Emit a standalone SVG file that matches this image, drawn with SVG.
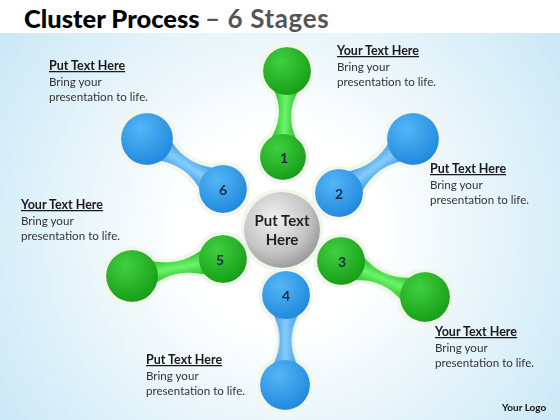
<svg xmlns="http://www.w3.org/2000/svg" width="560" height="420" viewBox="0 0 560 420">
<defs>
  <radialGradient id="bg" cx="280" cy="230" r="330" gradientUnits="userSpaceOnUse">
    <stop offset="0.3" stop-color="#ffffff"/>
    <stop offset="1" stop-color="#cde9f6"/>
  </radialGradient>
  <radialGradient id="gCircle" cx="0.38" cy="0.3" r="0.8">
    <stop offset="0" stop-color="#3fd03f"/>
    <stop offset="1" stop-color="#149814"/>
  </radialGradient>
  <radialGradient id="bCircle" cx="0.38" cy="0.3" r="0.8">
    <stop offset="0" stop-color="#55b6f7"/>
    <stop offset="1" stop-color="#1a84da"/>
  </radialGradient>
  <linearGradient id="gNeck" gradientUnits="userSpaceOnUse" x1="0" y1="-14" x2="0" y2="14">
    <stop offset="0" stop-color="#22b822"/>
    <stop offset="0.5" stop-color="#6cf46c"/>
    <stop offset="1" stop-color="#22b822"/>
  </linearGradient>
  <linearGradient id="bNeck" gradientUnits="userSpaceOnUse" x1="0" y1="-14" x2="0" y2="14">
    <stop offset="0" stop-color="#3798e4"/>
    <stop offset="0.5" stop-color="#86ccf9"/>
    <stop offset="1" stop-color="#3798e4"/>
  </linearGradient>
  <radialGradient id="grey" cx="0.4" cy="0.35" r="0.75">
    <stop offset="0" stop-color="#f2f2f2"/>
    <stop offset="0.6" stop-color="#c4c4c4"/>
    <stop offset="1" stop-color="#8c8c8c"/>
  </radialGradient>
  <filter id="halo" x="-10%" y="-10%" width="120%" height="120%">
    <feMorphology in="SourceAlpha" operator="dilate" radius="2.5" result="d"/>
    <feFlood flood-color="#f0f7ea"/>
    <feComposite in2="d" operator="in" result="h"/>
    <feMerge><feMergeNode in="h"/><feMergeNode in="SourceGraphic"/></feMerge>
  </filter>
  <style>
    .hd{font-family:Lato,"Liberation Sans",sans-serif;font-weight:bold;font-size:12.5px;fill:#1a1a1a;text-decoration:underline}
    .bd{font-family:Lato,"Liberation Sans",sans-serif;font-size:11.6px;fill:#333333}
    .num{font-family:Lato,"Liberation Sans",sans-serif;font-weight:bold;font-size:14px;fill:#1b2a48;text-anchor:middle}
    .ctr{font-family:Lato,"Liberation Sans",sans-serif;font-weight:bold;font-size:15px;fill:#222222;text-anchor:middle}
    .gc{fill:url(#gCircle)}
    .bc{fill:url(#bCircle)}
    .gn{fill:url(#gNeck)}
    .bn{fill:url(#bNeck)}
  </style>
</defs>

<rect x="0" y="0" width="560" height="420" fill="url(#bg)"/>
<rect x="0" y="0" width="560" height="33" fill="#ffffff"/>

<g id="title">
  <text x="24" y="28" font-family="Lato,'Liberation Sans',sans-serif" font-weight="900" font-size="25.5" fill="#000000">Cluster Process<tspan x="205" fill="#555555" font-weight="bold" font-size="26" letter-spacing="0.6">– 6 Stages</tspan></text>
</g>

<g filter="url(#halo)">
<g id="connectors">
  <path class="gn" transform="translate(283,157) rotate(-87.3)" d="M8,-19 C33,-2 53,-2 78,-19 L78,19 C53,2 33,2 8,19 Z"/>
  <path class="bn" transform="translate(339,193) rotate(-36.1)" d="M8,-19 C35,-2 57,-2 84,-19 L84,19 C57,2 35,2 8,19 Z"/>
  <path class="gn" transform="translate(341,261) rotate(23.2)" d="M8,-19 C35,-2 56,-2 83,-19 L83,19 C56,2 35,2 8,19 Z"/>
  <path class="bn" transform="translate(286,295) rotate(90.6)" d="M8,-19 C34,-2 56,-2 82,-19 L82,19 C56,2 34,2 8,19 Z"/>
  <path class="gn" transform="translate(223,259) rotate(169.4)" d="M8,-19 C35,-2 58,-2 85,-19 L85,19 C58,2 35,2 8,19 Z"/>
  <path class="bn" transform="translate(223,189) rotate(-146.7)" d="M8,-19 C35,-2 56,-2 83,-19 L83,19 C56,2 35,2 8,19 Z"/>
</g>

<g id="center">
  <circle cx="282" cy="230" r="38" fill="url(#grey)"/>
  <text class="ctr" x="282" y="226">Put Text</text>
  <text class="ctr" x="282" y="245">Here</text>
</g>

<g id="node1">
  <circle class="gc" cx="283" cy="157" r="23"/>
  <circle class="gc" cx="287" cy="71" r="24"/>
  <text class="num" x="284" y="163">1</text>
</g>
<g id="node2">
  <circle class="bc" cx="339" cy="193" r="24"/>
  <circle class="bc" cx="413" cy="139" r="26"/>
  <text class="num" x="339" y="199">2</text>
</g>
<g id="node3">
  <circle class="gc" cx="341" cy="261" r="24"/>
  <circle class="gc" cx="425" cy="297" r="25"/>
  <text class="num" x="342" y="267">3</text>
</g>
<g id="node4">
  <circle class="bc" cx="286" cy="295" r="24"/>
  <circle class="bc" cx="285" cy="385" r="25"/>
  <text class="num" x="286" y="301">4</text>
</g>
<g id="node5">
  <circle class="gc" cx="223" cy="259" r="24"/>
  <circle class="gc" cx="132" cy="276" r="26"/>
  <text class="num" x="220" y="265">5</text>
</g>
<g id="node6">
  <circle class="bc" cx="223" cy="189" r="24"/>
  <circle class="bc" cx="147" cy="139" r="26"/>
  <text class="num" x="223" y="195">6</text>
</g>
</g>

<g id="label1">
  <text class="hd" x="49" y="70">Put Text Here</text>
  <text class="bd" x="49" y="86">Bring your</text>
  <text class="bd" x="49" y="101">presentation to life.</text>
</g>
<g id="label2">
  <text class="hd" x="337" y="55">Your Text Here</text>
  <text class="bd" x="337" y="71">Bring your</text>
  <text class="bd" x="337" y="86">presentation to life.</text>
</g>
<g id="label3">
  <text class="hd" x="430" y="173">Put Text Here</text>
  <text class="bd" x="430" y="189">Bring your</text>
  <text class="bd" x="430" y="204">presentation to life.</text>
</g>
<g id="label4">
  <text class="hd" x="21" y="209">Your Text Here</text>
  <text class="bd" x="21" y="225">Bring your</text>
  <text class="bd" x="21" y="240">presentation to life.</text>
</g>
<g id="label5">
  <text class="hd" x="435" y="336">Your Text Here</text>
  <text class="bd" x="435" y="352">Bring your</text>
  <text class="bd" x="435" y="367">presentation to life.</text>
</g>
<g id="label6">
  <text class="hd" x="146" y="364">Put Text Here</text>
  <text class="bd" x="146" y="380">Bring your</text>
  <text class="bd" x="146" y="395">presentation to life.</text>
</g>
<text x="502" y="411" font-family="Lato,'Liberation Sans',sans-serif" font-weight="bold" font-size="10" fill="#111111">Your Logo</text>
</svg>
